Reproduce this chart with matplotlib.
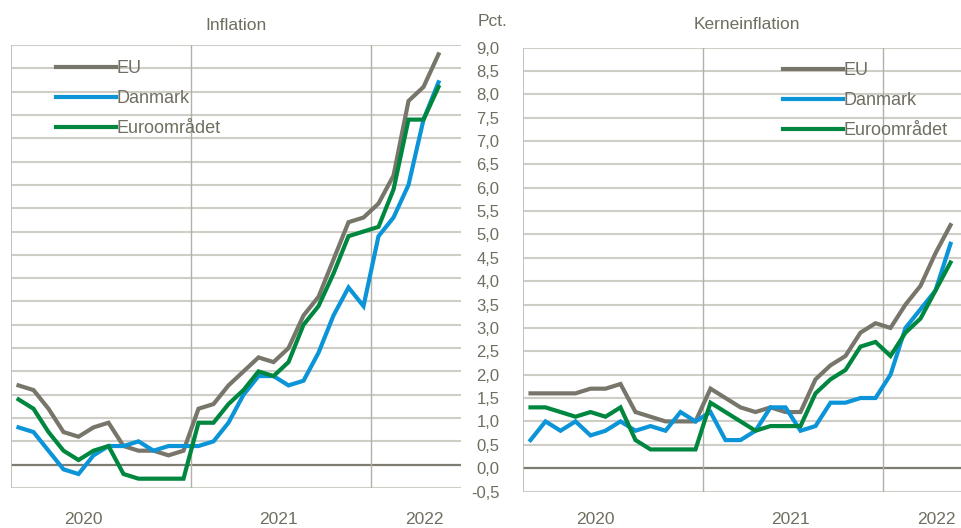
import numpy as np
import matplotlib
matplotlib.use("Agg")
import matplotlib.pyplot as plt

# Monthly data, Jan 2020 - May 2022 (pct. y/y)
months = np.arange(29)

infl_eu = [1.7, 1.6, 1.2, 0.7, 0.6, 0.8, 0.9, 0.4, 0.3, 0.3, 0.2, 0.3,
           1.2, 1.3, 1.7, 2.0, 2.3, 2.2, 2.5, 3.2, 3.6, 4.4, 5.2, 5.3,
           5.6, 6.2, 7.8, 8.1, 8.8]
infl_dk = [0.8, 0.7, 0.3, -0.1, -0.2, 0.2, 0.4, 0.4, 0.5, 0.3, 0.4, 0.4,
           0.4, 0.5, 0.9, 1.5, 1.9, 1.9, 1.7, 1.8, 2.4, 3.2, 3.8, 3.4,
           4.9, 5.3, 6.0, 7.4, 8.2]
infl_ea = [1.4, 1.2, 0.7, 0.3, 0.1, 0.3, 0.4, -0.2, -0.3, -0.3, -0.3, -0.3,
           0.9, 0.9, 1.3, 1.6, 2.0, 1.9, 2.2, 3.0, 3.4, 4.1, 4.9, 5.0,
           5.1, 5.9, 7.4, 7.4, 8.1]

core_eu = [1.6, 1.6, 1.6, 1.6, 1.7, 1.7, 1.8, 1.2, 1.1, 1.0, 1.0, 1.0,
           1.7, 1.5, 1.3, 1.2, 1.3, 1.2, 1.2, 1.9, 2.2, 2.4, 2.9, 3.1,
           3.0, 3.5, 3.9, 4.6, 5.2]
core_dk = [0.6, 1.0, 0.8, 1.0, 0.7, 0.8, 1.0, 0.8, 0.9, 0.8, 1.2, 1.0,
           1.2, 0.6, 0.6, 0.8, 1.3, 1.3, 0.8, 0.9, 1.4, 1.4, 1.5, 1.5,
           2.0, 3.0, 3.4, 3.8, 4.8]
core_ea = [1.3, 1.3, 1.2, 1.1, 1.2, 1.1, 1.3, 0.6, 0.4, 0.4, 0.4, 0.4,
           1.4, 1.2, 1.0, 0.8, 0.9, 0.9, 0.9, 1.6, 1.9, 2.1, 2.6, 2.7,
           2.4, 2.9, 3.2, 3.8, 4.4]

series_names = ["EU", "Danmark", "Euroområdet"]
year_labels = ["2020", "2021", "2022"]
y_ticks = np.arange(-0.5, 9.01, 0.5)

plt.rcParams['font.family'] = ['Liberation Sans', 'DejaVu Sans']
TXT = '#6f6e60'
COLORS = ['#78766a', '#0b95d8', '#00873f']
W, H = 962, 528


def px_axes(fig, x0, x1, ytop, ybot):
    return fig.add_axes([x0 / W, 1 - ybot / H, (x1 - x0) / W, (ybot - ytop) / H])


def style_panel(ax, xmax, xpad):
    ax.set_xlim(0, xmax)
    ax.set_ylim(-0.5, 9.0)
    ax.set_yticks(y_ticks)
    for y in y_ticks:
        if abs(y) < 1e-9:
            ax.axhline(y, color='#7e7c70', lw=1.6, zorder=1)
        else:
            ax.axhline(y, color='#cfcec6', lw=1.5, zorder=1)
    for xv in (12, 24):
        ax.axvline(xv, color='#b2b1a7', lw=1.0, zorder=1)
    for s in ax.spines.values():
        s.set_visible(False)
    ax.axvline(0, color='#b9b8ae', lw=1.2, zorder=1)
    ax.set_xticks([4.8, 17.85, 27.55])
    ax.set_xticklabels(year_labels)
    ax.tick_params(axis='x', length=0, pad=xpad, labelsize=12.5, labelcolor=TXT)
    ax.tick_params(axis='y', length=0, labelsize=12, labelcolor=TXT)


fig = plt.figure(figsize=(W / 100, H / 100), dpi=100)

ax1 = px_axes(fig, 11, 461, 45, 488)
ax2 = px_axes(fig, 523, 962, 47.5, 491.5)

style_panel(ax1, 30, 17)
style_panel(ax2, 439 / 15, 15)
ax1.set_yticklabels([])
ax2.set_yticklabels([f"{v:.1f}".replace('.', ',') for v in y_ticks])
ax2.tick_params(axis='y', pad=17)

x = months + 0.5
for ax, data in ((ax1, (infl_eu, infl_dk, infl_ea)), (ax2, (core_eu, core_dk, core_ea))):
    for vals, c, name in zip(data, COLORS, series_names):
        ax.plot(x, vals, color=c, lw=3, label=name, zorder=3, solid_joinstyle='miter')

ax1.set_title("Inflation", fontsize=12.5, color=TXT, pad=11)
ax2.set_title("Kerneinflation", fontsize=12.5, color=TXT, pad=13, x=0.51)
fig.text(493 / W, 1 - 22 / H, "Pct.", fontsize=12.5, color=TXT, ha='center', va='center')

for ax, (lx, ly) in ((ax1, (56, 60)), (ax2, (783, 62))):
    ax.legend(loc='upper left', bbox_to_anchor=(lx / W, 1 - ly / H),
              bbox_transform=fig.transFigure, frameon=False, borderpad=0,
              borderaxespad=0, handlelength=3.3, handletextpad=0.05,
              labelspacing=0.72, fontsize=13, labelcolor=TXT)

fig.savefig("out.png", dpi=100)
